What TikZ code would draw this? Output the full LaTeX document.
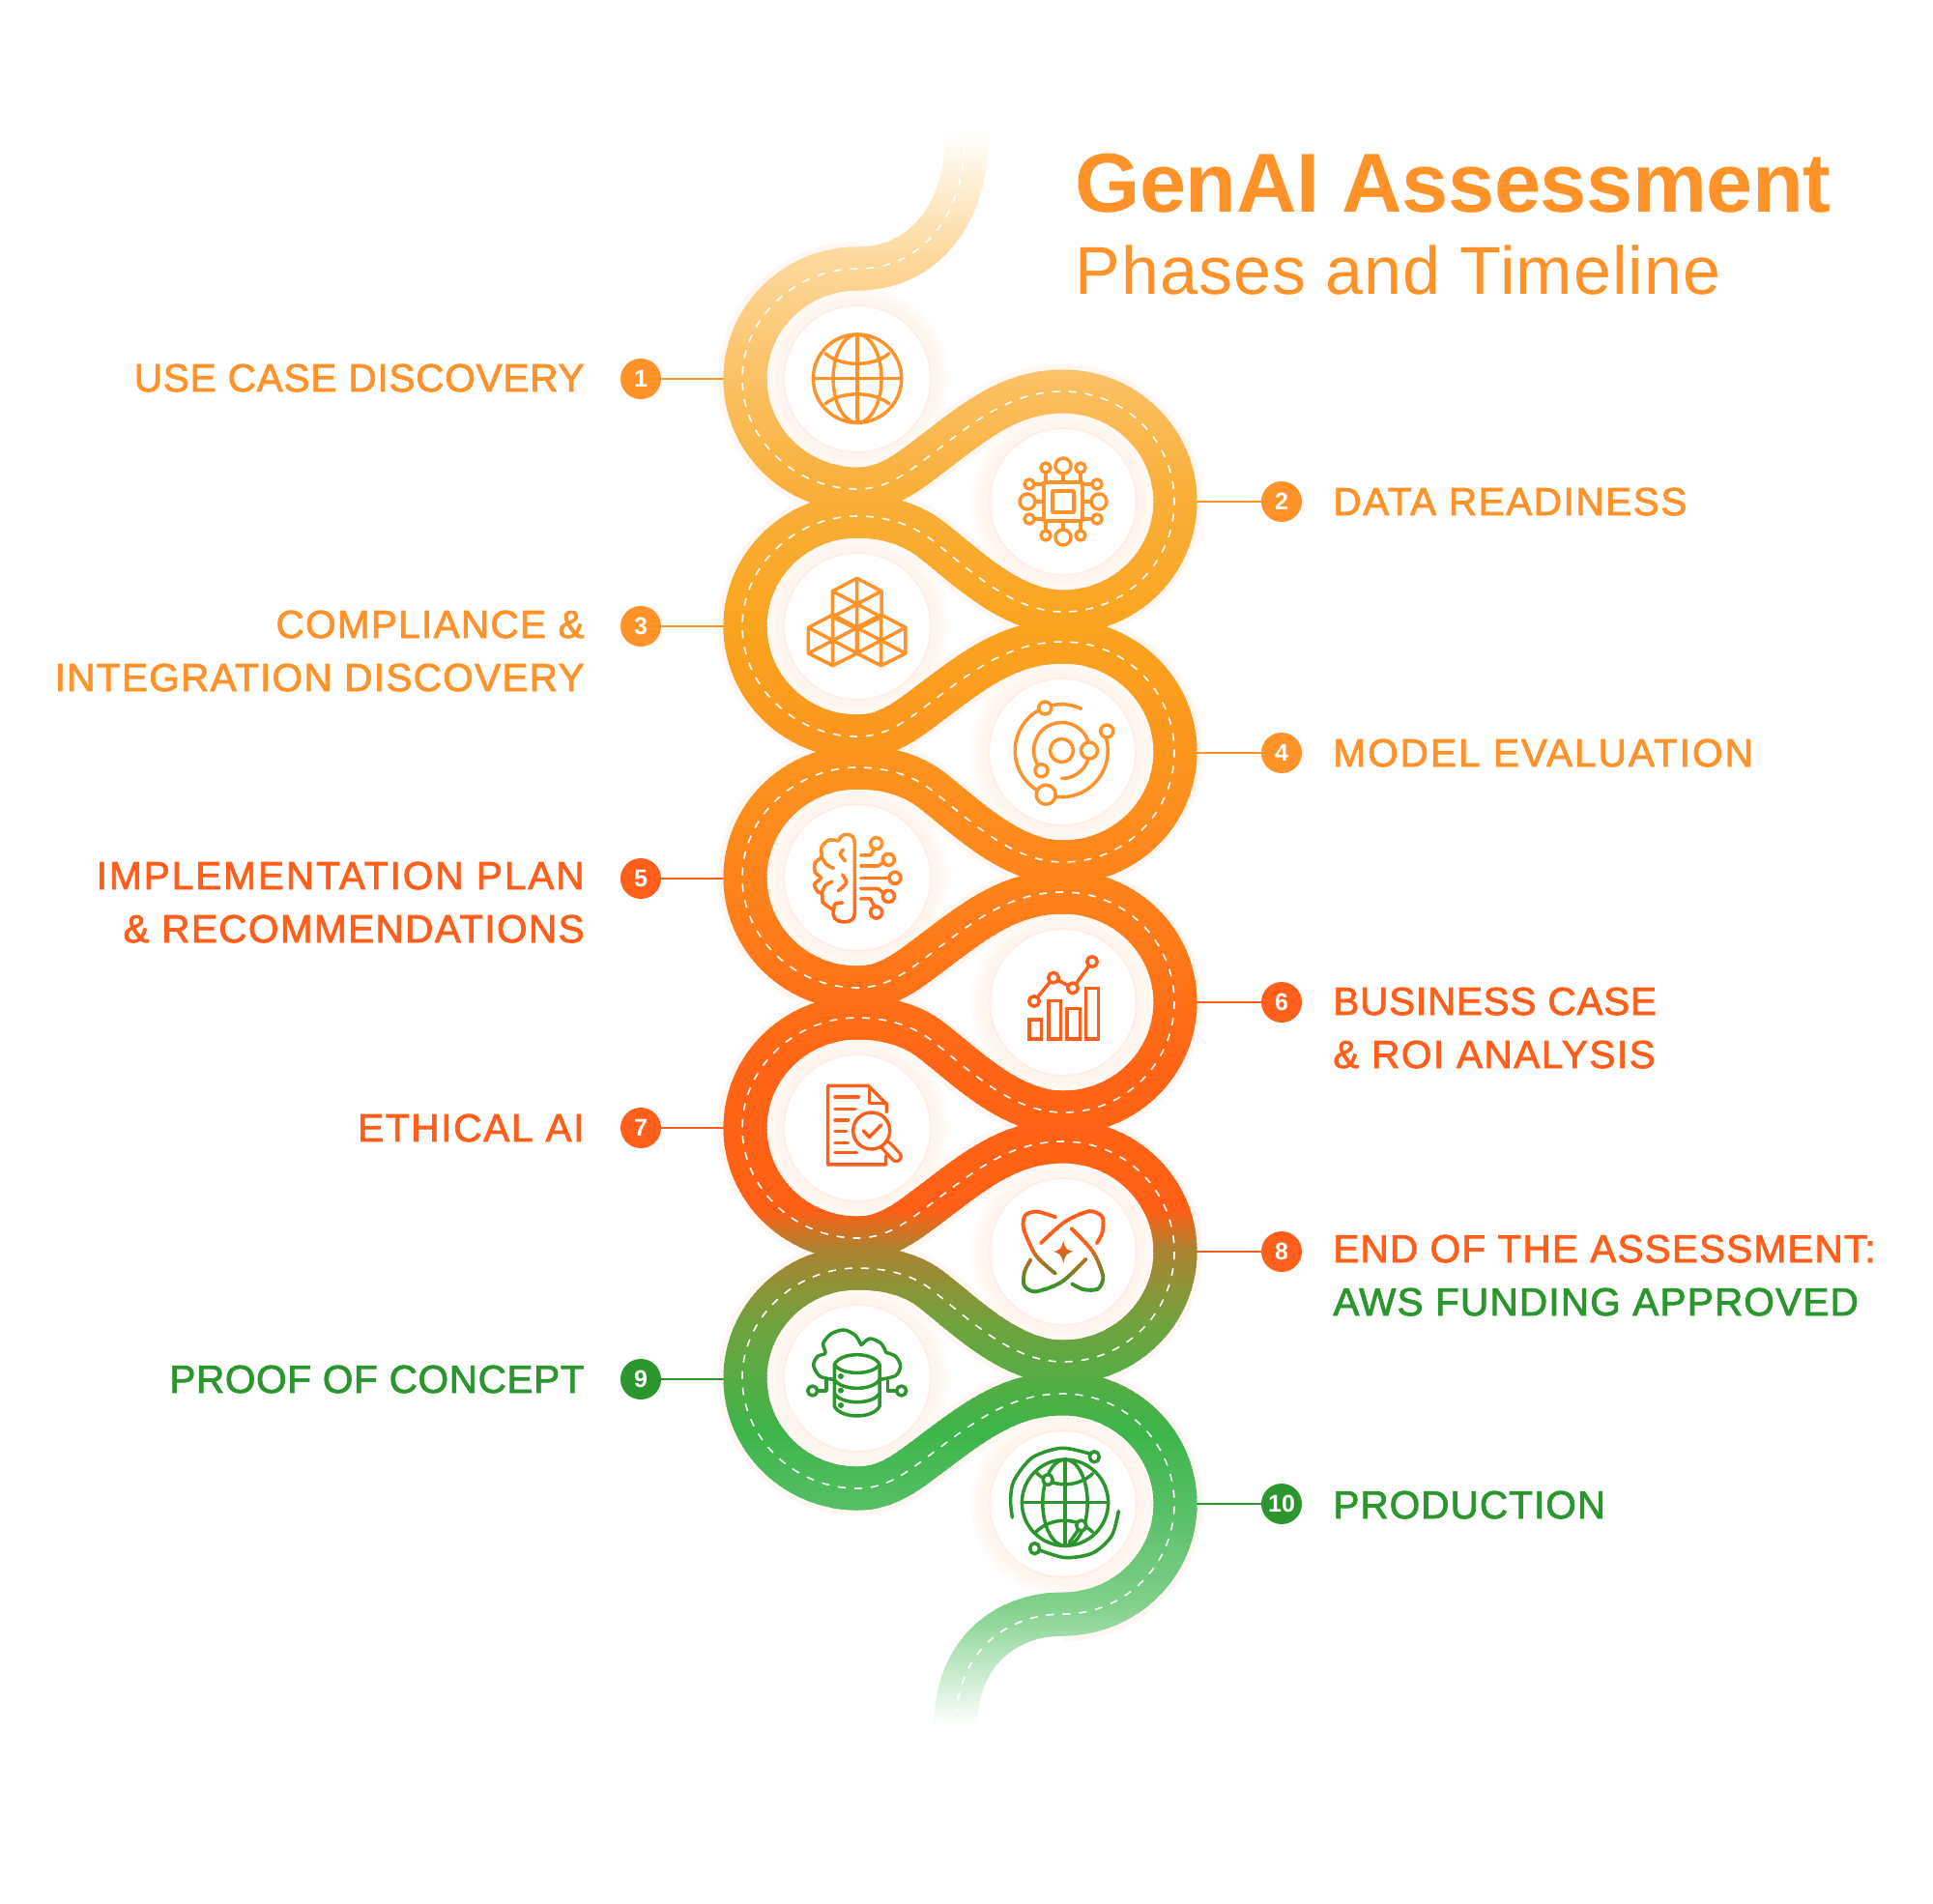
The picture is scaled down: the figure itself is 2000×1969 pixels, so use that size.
\documentclass[tikz,border=0pt]{standalone}
\usepackage{fontspec}
\setmainfont{Liberation Sans}
\newfontfamily\labelfont[LetterSpace=1.6,FakeBold=2]{Liberation Sans}
\newfontfamily\titlefont[LetterSpace=-0.6]{Liberation Sans}
\newfontfamily\subfont[LetterSpace=1.5]{Liberation Sans}
\definecolor{phaseorange}{HTML}{FF9228}
\definecolor{phasered}{HTML}{FF5F1A}
\definecolor{phasegreen}{HTML}{2A962D}
\definecolor{halopale}{HTML}{FFF7F2}
\definecolor{ringA}{HTML}{FFFBF8}
\definecolor{ringB}{HTML}{FFF8F3}
\definecolor{ringC}{HTML}{FFF5EF}
\definecolor{stopedge}{HTML}{FFEEE6}
\definecolor{rdA}{HTML}{FDD99F}
\definecolor{rdB}{HTML}{FBC063}
\definecolor{rdC}{HTML}{F9B03C}
\definecolor{rdD}{HTML}{FAA41F}
\definecolor{rdE}{HTML}{FC921E}
\definecolor{rdF}{HTML}{FF7E1A}
\definecolor{rdG}{HTML}{FF6516}
\definecolor{rdH}{HTML}{FF5F15}
\definecolor{rdI}{HTML}{AC8230}
\definecolor{rdJ}{HTML}{6FA33E}
\definecolor{rdK}{HTML}{3DB54A}
\definecolor{rdL}{HTML}{57BF66}
\definecolor{rdM}{HTML}{82D08C}
\tikzset{
  roadline/.style={line width=22.5pt,line cap=butt},
  haloline/.style={line width=28pt,halopale},
  dashline/.style={white,line width=.8pt,dash pattern=on 4pt off 4.5pt},
  stopdisc/.style={circle,fill=white,draw=stopedge,line width=1pt,minimum size=76pt,inner sep=0pt},
  badge/.style={circle,minimum size=21pt,inner sep=0pt,text=white,font=\fontsize{12.5}{13}\selectfont\bfseries},
  lead/.style={line width=.8pt},
  iconline/.style={line width=1.75pt,line cap=round,line join=round},
  textleft/.style={anchor=base east,inner sep=0pt,font=\labelfont\fontsize{20.25}{24}\selectfont},
  textright/.style={anchor=base west,inner sep=0pt,font=\labelfont\fontsize{20.25}{24}\selectfont}
}
% pieces of the road, y of this stop and y of the next one
\newcommand{\leftarc}[1]{.. controls (887-64,#1-114) and (\xl,#1-63) .. (\xl,#1) .. controls (\xl,#1+63) and (887-64,#1+114) .. (887,#1+114)}
\newcommand{\rightarc}[1]{.. controls (1100+64,#1-114) and (\xr,#1-63) .. (\xr,#1) .. controls (\xr,#1+63) and (1100+64,#1+114) .. (1100,#1+114)}
\newcommand{\goright}[2]{.. controls (913,#1+114) and (932,#1+102) .. (952,#1+87) .. controls (1002,#1+50) and (1040,#2-114) .. (1100,#2-114)}
\newcommand{\goleft}[2]{.. controls (1045,#1+114) and (1000,#1+67) .. (962,#1+38) .. controls (942,#1+23) and (915,#2-114) .. (887,#2-114)}
\def\roadcore{(887,278) \leftarc{392} \goright{392}{519} \rightarc{519} \goleft{519}{648}
  \leftarc{648} \goright{648}{778} \rightarc{778} \goleft{778}{908}
  \leftarc{908} \goright{908}{1037} \rightarc{1037} \goleft{1037}{1167}
  \leftarc{1167} \goright{1167}{1295} \rightarc{1295} \goleft{1295}{1426}
  \leftarc{1426} \goright{1426}{1556} \rightarc{1556}}
% icons, written in the pixel frame of the crop they were read from
\newcommand{\iconglobe}{
  \begin{scope}[shift={(720,130)},scale=0.357]
    \draw[iconline,iconcol] (468,733) circle[radius=128];
    \draw[iconline,iconcol] (468,733) ellipse[x radius=70,y radius=128];
    \draw[iconline,iconcol] (468,605) -- (468,861) (340,733) -- (596,733);
    \draw[iconline,iconcol] (375,660) .. controls (420,700) and (515,700) .. (560,660);
    \draw[iconline,iconcol] (375,806) .. controls (420,769) and (515,769) .. (560,806);
  \end{scope}}
\newcommand{\iconchip}{
  \begin{scope}[shift={(1100,519)}]
    \draw[iconline,iconcol] (-20,-20) rectangle (20,20);
    \draw[iconline,iconcol] (-11,-11) rectangle (11,11);
    \foreach \r in {0,90,180,270}{
      \begin{scope}[rotate=\r]
        \draw[iconline,iconcol] (0,-20) -- (0,-29) (-18,-20) -- (-18,-30) (18,-20) -- (18,-30);
        \draw[iconline,iconcol] (0,-37) circle[radius=8];
        \draw[iconline,iconcol] (-18,-35) circle[radius=5];
        \draw[iconline,iconcol] (18,-35) circle[radius=5];
      \end{scope}}
  \end{scope}}
\newcommand{\iconcubes}{
  \begin{scope}[shift={(780,580)},scale=0.3333]
    \foreach \cx/\cy in {320/135,245/248,395/248}{
      \draw[iconline,iconcol] (\cx,\cy-80) -- (\cx+76,\cy-40) -- (\cx+76,\cy+40) -- (\cx,\cy+78) -- (\cx-76,\cy+40) -- (\cx-76,\cy-40) -- cycle;
      \draw[iconline,iconcol] (\cx,\cy-80) -- (\cx,\cy+78) (\cx-76,\cy-40) -- (\cx+76,\cy+40) (\cx+76,\cy-40) -- (\cx-76,\cy+40);
    }
  \end{scope}}
\newcommand{\iconorbit}{
  \begin{scope}[shift={(1098.5,776.5)}]
    \draw[iconline,iconcol] (0,0) circle[radius=12];
    \draw[iconline,iconcol] (20,-43.3) arc[start angle=-65,end angle=-383,radius=48];
    \draw[iconline,iconcol] (-20.5,20.5) arc[start angle=135,end angle=450,radius=29];
    \foreach \px/\py/\pr in {-17.3/-44/6.5,28.5/0/8.5,-21/20.7/6.5,-16.3/45.7/10,46.7/-20/6.5}
      \draw[iconline,iconcol,fill=white] (\px,\py) circle[radius=\pr];
  \end{scope}}
\newcommand{\iconbrain}{
  \begin{scope}[shift={(780,580)},scale=0.3333]
    \draw[iconline,iconcol] (262,870) .. controls (268,855) and (280,850) .. (288,850) .. controls (303,850) and (313,860) .. (313,875) -- (313,1095) .. controls (313,1112) and (300,1122) .. (282,1122) .. controls (255,1122) and (240,1105) .. (248,1085);
    \draw[iconline,iconcol] plot[smooth] coordinates {(262,870) (232,868) (210,890) (210,920) (190,938) (190,968) (208,985) (188,1005) (198,1028) (212,1035) (215,1062) (248,1085)};
    \draw[iconline,iconcol] plot[smooth] coordinates {(210,920) (225,943) (247,955)};
    \draw[iconline,iconcol] plot[smooth] coordinates {(277,897) (268,912) (283,932)};
    \draw[iconline,iconcol] plot[smooth] coordinates {(275,975) (287,1000) (262,1025)};
    \draw[iconline,iconcol] plot[smooth] coordinates {(212,1030) (222,1008) (243,997)};
    \draw[iconline,iconcol] plot[smooth] coordinates {(275,1062) (252,1066) (248,1085)};
    \draw[iconline,iconcol] (332,915) -- (362,915) -- (375,895);
    \draw[iconline,iconcol] (332,948) -- (385,948) -- (405,935);
    \draw[iconline,iconcol] (332,985) -- (420,985);
    \draw[iconline,iconcol] (332,1018) -- (385,1018) -- (405,1035);
    \draw[iconline,iconcol] (332,1050) -- (362,1050) -- (375,1075);
    \foreach \px/\py in {380/878,418/928,438/985,418/1042,380/1092}
      \draw[iconline,iconcol] (\px,\py) circle[radius=18];
  \end{scope}}
\newcommand{\iconbars}{
  \begin{scope}[shift={(780,830)},scale=0.3333]
    \foreach \xa/\ya/\xb in {855/675/893,915/617/953,972/640/1012,1030/577/1070}
      \draw[iconline,iconcol,line join=miter] (\xa,\ya) rectangle (\xb,735);
    \draw[iconline,iconcol] (870,618) -- (930,545) -- (990,577) -- (1050,495);
    \foreach \px/\py in {870/618,930/545,990/577,1050/495}
      \draw[iconline,iconcol,fill=white] (\px,\py) circle[radius=16];
  \end{scope}}
\newcommand{\icondoc}{
  \begin{scope}[shift={(780,830)},scale=0.3333]
    \draw[iconline,iconcol] (412,962) -- (412,937) -- (355,880) -- (230,880) -- (230,1125) -- (410,1125) -- (410,1098);
    \draw[iconline,iconcol] (358,890) -- (358,935) -- (412,935);
    \foreach \xb/\py in {325/915,315/952,292/987,287/1022,292/1057,320/1088}
      \draw[iconline,iconcol] (252,\py) -- (\xb,\py);
    \draw[line width=6.5pt,line cap=round,iconcol] (412,1068) -- (442,1100);
    \draw[line width=3.2pt,line cap=round,white] (412,1068) -- (442,1100);
    \draw[iconline,iconcol,fill=white] (365,1020) circle[radius=57];
    \draw[iconline,iconcol] (340,1020) -- (358,1040) -- (395,1002);
  \end{scope}}
\newcommand{\iconatom}{
  \begin{scope}[shift={(720,1200)},xscale=0.357,yscale=0.395]
    \draw[iconline,iconcol,line width=1.9pt] plot[smooth] coordinates {(1042,150) (990,136) (955,145) (950,180) (985,250) (1042,298)};
    \draw[iconline,iconcol,line width=1.9pt] plot[smooth] coordinates {(1088,180) (1150,240) (1180,305) (1165,338) (1125,340) (1090,325)};
    \draw[iconline,iconcol,line width=1.9pt] plot[smooth] coordinates {(1000,218) (1070,162) (1140,135) (1178,150) (1178,190) (1162,218)};
    \draw[iconline,iconcol,line width=1.9pt] plot[smooth] coordinates {(1130,260) (1060,320) (985,345) (952,330) (952,295) (970,262)};
    \fill[iconcol] (1065,212) .. controls (1070,232) and (1075,238) .. (1095,240) .. controls (1075,244) and (1070,250) .. (1065,270) .. controls (1060,250) and (1055,244) .. (1035,240) .. controls (1055,238) and (1060,232) .. (1065,212) -- cycle;
  \end{scope}}
\newcommand{\iconcloud}{
  \begin{scope}[shift={(820,1340)},scale=0.3333]
    \draw[iconline,iconcol] plot[smooth] coordinates {(128,262) (85,252) (65,218) (78,190) (102,180) (95,150) (120,120) (160,108) (195,125) (213,155)};
    \draw[iconline,iconcol] plot[smooth] coordinates {(213,155) (240,135) (275,150) (290,178)};
    \draw[iconline,iconcol] plot[smooth] coordinates {(290,178) (320,190) (335,220) (320,250) (272,262)};
    \draw[iconline,iconcol,fill=white] (130,215) -- (130,345) .. controls (150,385) and (250,385) .. (270,345) -- (270,215) .. controls (250,175) and (150,175) .. (130,215) -- cycle;
    \draw[iconline,iconcol] (130,215) .. controls (150,250) and (250,250) .. (270,215);
    \draw[iconline,iconcol] (130,262) .. controls (150,298) and (250,298) .. (270,262);
    \draw[iconline,iconcol] (130,305) .. controls (150,341) and (250,341) .. (270,305);
    \foreach \py in {252,296,342}
      \fill[iconcol] (150,\py) circle[radius=9];
    \draw[iconline,iconcol] (105,265) -- (105,297) -- (78,297) (295,265) -- (295,297) -- (322,297);
    \draw[iconline,iconcol] (62,297) circle[radius=15];
    \draw[iconline,iconcol] (338,297) circle[radius=15];
  \end{scope}}
\newcommand{\iconworld}{
  \begin{scope}[shift={(720,1200)},xscale=0.357,yscale=0.395]
    \draw[iconline,iconcol] (1070,898) ellipse[x radius=125,y radius=113];
    \draw[iconline,iconcol] (1070,898) ellipse[x radius=65,y radius=113];
    \draw[iconline,iconcol] (1070,785) -- (1070,1011) (945,898) -- (1195,898);
    \draw[iconline,iconcol] (985,818) .. controls (1030,860) and (1105,860) .. (1150,822);
    \draw[iconline,iconcol] (985,975) .. controls (1030,935) and (1105,935) .. (1150,975);
    \draw[iconline,iconcol] (1117,958) -- (1082,1003);
    \draw[iconline,iconcol] plot[smooth] coordinates {(1142,770) (1060,755) (975,780) (922,840) (912,890) (917,937)};
    \draw[iconline,iconcol] plot[smooth] coordinates {(995,1022) (1070,1042) (1150,1030) (1205,985) (1225,920)};
    \foreach \px/\py in {1155/778,1020/838,1117/958,982/1018}
      \draw[iconline,iconcol,fill=white] (\px,\py) circle[radius=14];
  \end{scope}}
% same icon in thin slices, for the two whose colour runs top to bottom
\newcommand{\gradicon}[7]{
  \foreach \yy in {#1,...,#2}{
    \pgfmathsetmacro\mixv{max(0,min(100,100*(\yy*3-#3)/(#4-#3)))}
    \colorlet{iconcol}{#6!\mixv!#5}
    \begin{scope}
      \clip (700,\yy*3) rectangle (1300,\yy*3+3.4);
      #7
    \end{scope}
  }}
\begin{document}
\begin{tikzpicture}[x=.5pt,y=-.5pt]
  \useasboundingbox (0,0) rectangle (2000,1969);
  \fill[white] (0,0) rectangle (2000,1969);

  \foreach \xx/\yy in {887/392,1100/519,887/648,1099/778,887/908,1100/1037,887/1167,1100/1295,887/1426,1100/1556}{
    \fill[ringA] (\xx,\yy) circle[radius=95];
    \fill[ringB] (\xx,\yy) circle[radius=90];
    \fill[ringC] (\xx,\yy) circle[radius=85];
  }

  \def\xl{771}\def\xr{1216}
  \draw[haloline] \roadcore;

  % badges and their leads
  \foreach \i/\yy/\col in {1/392/phaseorange,3/648/phaseorange,5/909/phasered,7/1167/phasered,9/1427/phasegreen}{
    \node[badge,fill=\col] (badge\i) at (663,\yy) {\i};
    \coordinate (road\i) at (771,\yy);
    \draw[lead,\col] (badge\i) -- (road\i);
  }
  \foreach \i/\yy/\col in {2/519/phaseorange,4/779/phaseorange,6/1037/phasered,8/1295/phasered,10/1556/phasegreen}{
    \node[badge,fill=\col] (badge\i) at (1326,\yy) {\i};
    \coordinate (road\i) at (1216,\yy);
    \draw[lead,\col] (badge\i) -- (road\i);
  }

  % the road, colour changes downwards
  \foreach \ya/\yb/\ca/\cb in {135/260/white/rdA,260/392/rdA/rdB,392/500/rdB/rdC,500/650/rdC/rdD,650/800/rdD/rdE,800/950/rdE/rdF,950/1100/rdF/rdG,1100/1250/rdG/rdH,1250/1290/rdH/rdI,1290/1370/rdI/rdJ,1370/1480/rdJ/rdK,1480/1560/rdK/rdL,1560/1660/rdL/rdM,1660/1785/rdM/white}{
    \pgfmathtruncatemacro\yc{\ya+4}
    \foreach \yy in {\ya,\yc,...,\yb}{
      \pgfmathsetmacro\mixv{100*(\yy-\ya)/(\yb-\ya)}
      \colorlet{bandcol}{\cb!\mixv!\ca}
      \begin{scope}
        \clip (700,\yy) rectangle (1300,\yy+5);
        \draw[roadline,bandcol] (1000,135) -- (1000,145) .. controls (1000,215) and (960,278) .. \roadcore .. controls (1040,1670) and (989,1710) .. (989,1785);
      \end{scope}
    }
  }
  \def\xl{768}\def\xr{1215}
  \begin{scope}
    \clip (700,150) rectangle (1300,1770);
    \draw[dashline] (998,135) -- (998,145) .. controls (998,215) and (960,278) .. \roadcore .. controls (1040,1670) and (989,1710) .. (989,1785);
  \end{scope}

  \foreach \i/\xx/\yy in {1/887/392,2/1100/519,3/887/648,4/1099/778,5/887/908,6/1100/1037,7/887/1167,8/1100/1295,9/887/1426,10/1100/1556}
    \node[stopdisc] (stop\i) at (\xx,\yy) {};

  % icons
  \colorlet{iconcol}{phaseorange}
  \iconglobe
  \iconchip
  \iconcubes
  \iconorbit
  \gradicon{287}{320}{870}{960}{phaseorange}{phasered}{\iconbrain}
  \colorlet{iconcol}{phasered}
  \iconbars
  \icondoc
  \gradicon{415}{447}{1285}{1335}{phasered}{phasegreen}{\iconatom}
  \colorlet{iconcol}{phasegreen}
  \iconcloud
  \iconworld

  % labels
  \foreach \name/\yy/\col/\ls/\txt in {a/405/phaseorange/1.95/USE CASE DISCOVERY,b/660/phaseorange/3.2/COMPLIANCE \&,c/715/phaseorange/3.25/INTEGRATION DISCOVERY,d/920/phasered/4.9/IMPLEMENTATION PLAN,e/975/phasered/3.45/\& RECOMMENDATIONS,f/1181/phasered/4.3/ETHICAL AI,g/1441/phasegreen/1.6/PROOF OF CONCEPT}
    \node[textleft,\col] (label\name) at (605,\yy) {\addfontfeature{LetterSpace=\ls}\txt};
  \foreach \name/\yy/\col/\ls/\txt in {h/533/phaseorange/3.85/DATA READINESS,i/793/phaseorange/5.05/MODEL EVALUATION,j/1050/phasered/1.85/BUSINESS CASE,k/1105/phasered/3.75/\& ROI ANALYSIS,l/1306/phasered/2.9/END OF THE ASSESSMENT:,m/1361/phasegreen/3/AWS FUNDING APPROVED,n/1571/phasegreen/2.6/PRODUCTION}
    \node[textright,\col] (label\name) at (1379,\yy) {\addfontfeature{LetterSpace=\ls}\txt};

  \node[anchor=base west,inner sep=0pt,phaseorange,font=\titlefont\fontsize{43.3}{50}\selectfont\bfseries] (title) at (1112,220) {GenAI Assessment};
  \node[anchor=base west,inner sep=0pt,phaseorange,font=\subfont\fontsize{35}{42}\selectfont] (subtitle) at (1112,304) {Phases and Timeline};
\end{tikzpicture}
\end{document}
